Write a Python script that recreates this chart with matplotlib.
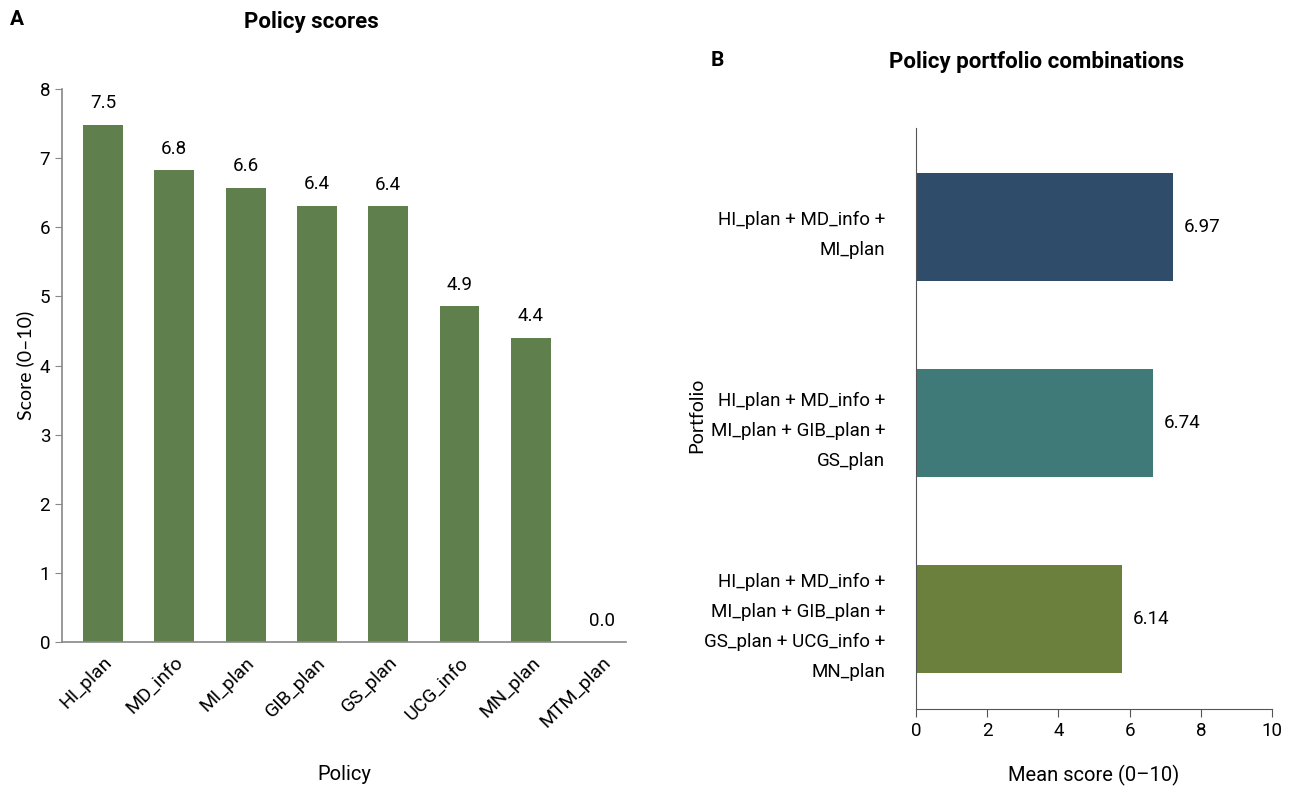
import matplotlib.pyplot as plt
from matplotlib import font_manager

# ---- data ----
policies = ["HI_plan", "MD_info", "MI_plan", "GIB_plan", "GS_plan", "UCG_info", "MN_plan", "MTM_plan"]
policy_scores = [7.48, 6.82, 6.57, 6.31, 6.30, 4.86, 4.40, 0.0]
policy_labels = ["7.5", "6.8", "6.6", "6.4", "6.4", "4.9", "4.4", "0.0"]

portfolios = [
    "HI_plan + MD_info +\nMI_plan",
    "HI_plan + MD_info +\nMI_plan + GIB_plan +\nGS_plan",
    "HI_plan + MD_info +\nMI_plan + GIB_plan +\nGS_plan + UCG_info +\nMN_plan",
]
portfolio_scores = [7.22, 6.65, 5.80]
portfolio_labels = ["6.97", "6.74", "6.14"]
portfolio_colors = ["#2f4d6b", "#3f7a79", "#6b803d"]

# ---- font ----
names = {f.name for f in font_manager.fontManager.ttflist}
narrow = "Liberation Sans Narrow" if "Liberation Sans Narrow" in names else "Roboto"
plt.rcParams["font.family"] = [narrow, "DejaVu Sans"]

fig = plt.figure(figsize=(12.96, 7.92), dpi=100)

# ---- panel A ----
ax1 = fig.add_axes([0.0478, 0.189, 0.4352, 0.699])
x = range(len(policies))
ax1.bar(x, policy_scores, width=0.56, color="#5f804d")
for xi, h, lab in zip(x, policy_scores, policy_labels):
    ax1.text(xi, h + 0.18, lab, ha="center", va="bottom", fontsize=13.5)
ax1.set_xlim(-0.575, 7.335)
ax1.set_ylim(0, 8)
ax1.set_xticks(list(x))
ax1.set_xticklabels(policies, rotation=45, ha="right", rotation_mode="anchor", fontsize=14)
ax1.tick_params(axis="x", length=0, pad=8)
ax1.tick_params(axis="y", labelsize=13.5, color="#888888", length=5)
ax1.set_yticks(range(0, 9))
for s in ["top", "right"]:
    ax1.spines[s].set_visible(False)
for s in ["left", "bottom"]:
    ax1.spines[s].set_color("#888888")
    ax1.spines[s].set_linewidth(1.2)
ax1.set_ylabel("Score (0–10)", fontsize=14, family=["Lato", "DejaVu Sans"])
ax1.set_xlabel("Policy", fontsize=14.5, labelpad=24)
fig.text(0.008, 0.975, "A", fontsize=15, fontweight="bold", va="center")
fig.text(0.240, 0.972, "Policy scores", fontsize=16, fontweight="bold", ha="center", va="center")

# ---- panel B ----
ax2 = fig.add_axes([0.7068, 0.105, 0.2747, 0.733])
y = range(len(portfolios))
ax2.barh(y, portfolio_scores, height=0.55, color=portfolio_colors)
for yi, w, lab in zip(y, portfolio_scores, portfolio_labels):
    ax2.text(w + 0.3, yi, lab, ha="left", va="center", fontsize=13.5)
ax2.set_xlim(0, 10)
ax2.set_ylim(2.46, -0.505)
ax2.set_xticks(range(0, 11, 2))
ax2.set_yticks(list(y))
ax2.set_yticklabels(portfolios, fontsize=13.5, linespacing=1.85, ha="right")
ax2.tick_params(axis="y", length=0, pad=22)
ax2.tick_params(axis="x", labelsize=13.5, length=6, color="#555555")
for s in ["top", "right"]:
    ax2.spines[s].set_visible(False)
for s in ["left", "bottom"]:
    ax2.spines[s].set_color("#555555")
ax2.set_xlabel("Mean score (0–10)", fontsize=14.5, labelpad=18)
fig.text(0.538, 0.476, "Portfolio", fontsize=14, rotation=90, ha="center", va="center",
         family=["Lato", "DejaVu Sans"])
fig.text(0.548, 0.924, "B", fontsize=15, fontweight="bold", va="center")
fig.text(0.800, 0.922, "Policy portfolio combinations", fontsize=16, fontweight="bold",
         ha="center", va="center")

fig.savefig("out.png", dpi=100)
